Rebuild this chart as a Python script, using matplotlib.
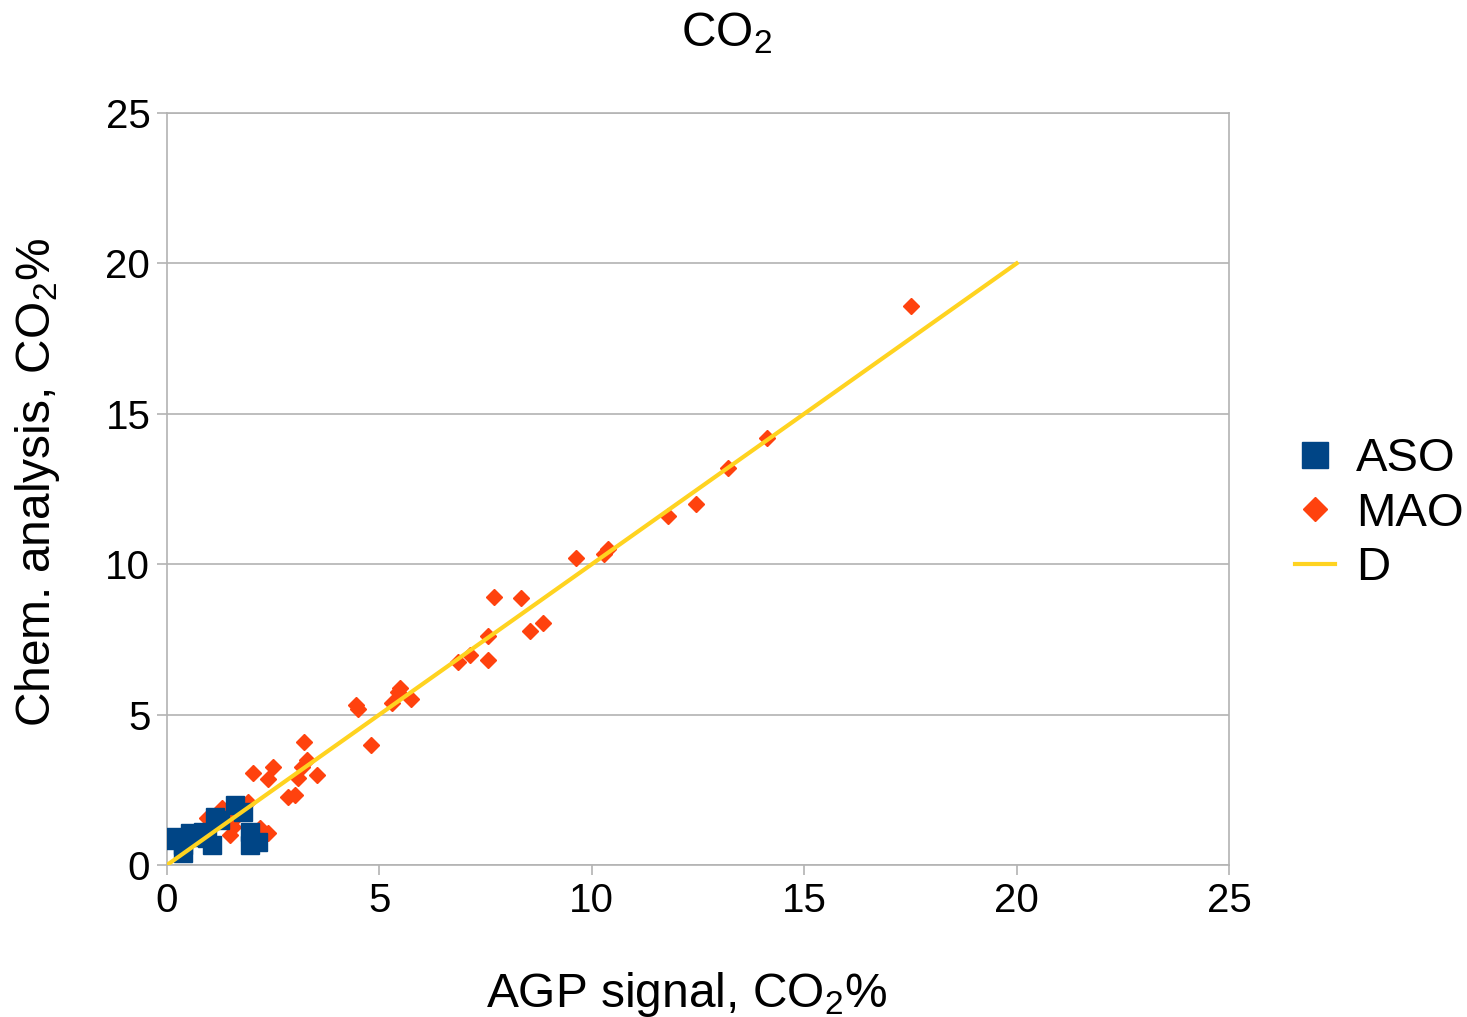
import matplotlib
matplotlib.use("Agg")
import matplotlib.pyplot as plt

plt.rcParams['font.family'] = ['Liberation Sans', 'DejaVu Sans']
plt.rcParams['mathtext.fontset'] = 'custom'
plt.rcParams['mathtext.rm'] = 'Liberation Sans'
plt.rcParams['mathtext.it'] = 'Liberation Sans'
plt.rcParams['mathtext.default'] = 'regular'

# ASO samples: AGP signal vs chemical analysis (CO2 %)
aso_x = [0.07, 0.14, 0.38, 0.38, 0.54, 0.61, 0.85, 0.94, 1.06, 1.13, 1.25,
         1.60, 1.79, 1.95, 1.95, 2.14]
aso_y = [0.83, 0.93, 0.66, 0.40, 1.06, 0.93, 1.10, 0.90, 0.66, 1.60, 1.50,
         1.99, 1.76, 1.10, 0.66, 0.76]

# MAO samples
mao_x = [17.51, 14.12, 13.21, 12.45, 11.79, 10.38, 10.29, 9.63, 7.70, 8.33,
         8.85, 8.55, 7.56, 7.13, 6.85, 7.56, 4.45, 4.49, 5.48, 5.44, 5.30,
         5.74, 4.80, 3.22, 3.29, 3.17, 3.52, 3.09, 2.50, 2.02, 2.37, 3.01,
         2.85, 1.91, 2.19, 2.38, 1.55, 1.48, 1.29, 0.94, 1.55]
mao_y = [18.58, 14.20, 13.20, 12.00, 11.60, 10.51, 10.34, 10.21, 8.91, 8.88,
         8.05, 7.78, 7.61, 6.98, 6.75, 6.82, 5.32, 5.19, 5.88, 5.75, 5.39,
         5.52, 3.99, 4.10, 3.49, 3.27, 2.99, 2.89, 3.26, 3.07, 2.86, 2.33,
         2.26, 2.09, 1.23, 1.06, 1.26, 1.00, 1.89, 1.56, 1.50]

# Reference line D (1:1)
d_x = [0, 20]
d_y = [0, 20]

fig = plt.figure(figsize=(14.67, 10.17), dpi=100)
ax = fig.add_axes([167/1467, 1 - 865/1017, (1229 - 167)/1467, (865 - 113)/1017])

grid_c = '#b3b3b3'
ax.set_xlim(0, 25)
ax.set_ylim(0, 25)
ax.set_xticks([0, 5, 10, 15, 20, 25])
ax.set_yticks([0, 5, 10, 15, 20, 25])
ax.yaxis.grid(True, color=grid_c, linewidth=1.2)
ax.set_axisbelow(True)
for s in ax.spines.values():
    s.set_color(grid_c)
    s.set_linewidth(1.2)
ax.tick_params(axis='both', colors=grid_c, length=7, width=1.2, labelsize=29,
               labelcolor='black', pad=5)

ax.plot(aso_x, aso_y, linestyle='none', marker='s', markersize=13.5,
        color='#004586', markeredgecolor='#004586', label='ASO', zorder=3)
ax.plot(mao_x, mao_y, linestyle='none', marker='D', markersize=8.5,
        color='#ff420e', markeredgecolor='#ff420e', label='MAO', zorder=2)
ax.plot(d_x, d_y, color='#ffd320', linewidth=3, label='D', zorder=4)

fig.text(727/1467, 1 - 33/1017, 'CO$_2$', fontsize=34.5, ha='center', va='center')
ax.set_xlabel('AGP signal, CO$_2$%', fontsize=34.5, labelpad=36)
ax.set_ylabel('Chem. analysis, CO$_2$%', fontsize=34.5, labelpad=31)
ax.xaxis.label.set_x(0.489)
ax.yaxis.label.set_y(0.509)

leg = ax.legend(loc='center left', bbox_to_anchor=(1.044, 0.467), frameon=False,
                fontsize=34, markerscale=1.4, handlelength=0.85,
                handletextpad=0.45, labelspacing=0.22, borderaxespad=0)

fig.savefig('out.png', dpi=100)
